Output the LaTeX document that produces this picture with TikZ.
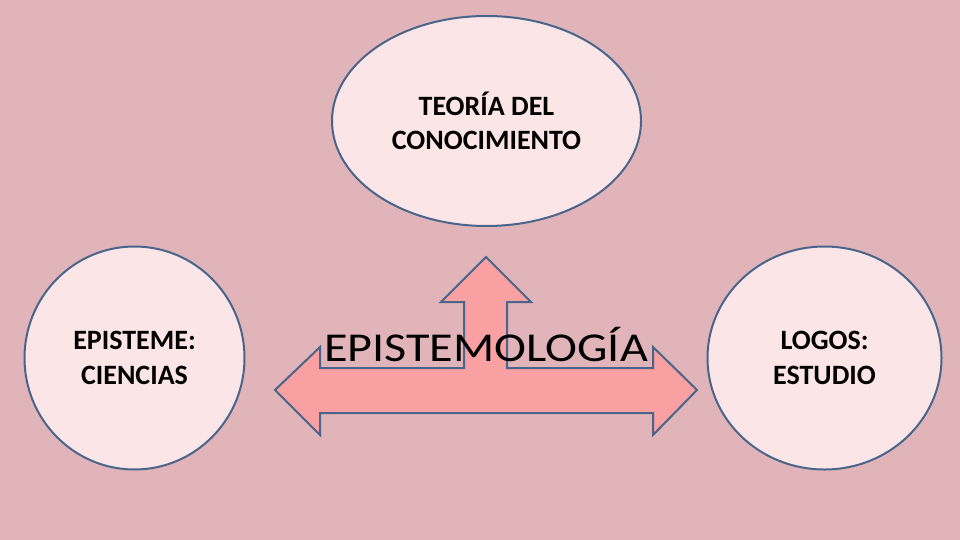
\documentclass[tikz,border=0pt]{standalone}
\usepackage{fontspec}
\setmainfont{Carlito}
\usetikzlibrary{shapes.geometric}
\definecolor{bgpink}{RGB}{224,180,184}
\definecolor{ellfill}{RGB}{252,229,231}
\definecolor{arrfill}{RGB}{249,160,162}
\definecolor{edgeblue}{RGB}{74,101,140}
\tikzset{
  circ/.style={ellipse, draw=edgeblue, fill=ellfill, line width=2pt, inner sep=0pt,
    align=center, font=\bfseries\fontsize{28}{34.5}\selectfont},
  bigarrow/.style={draw=edgeblue, fill=arrfill, line width=2pt, line join=miter},
  title/.style={font=\fontsize{41}{48}\selectfont, inner sep=0pt, xscale=1.175, transform shape}
}
\begin{document}
\begin{tikzpicture}[x=1pt,y=-1pt]
\useasboundingbox (0,0) rectangle (960,540);
\fill[bgpink] (0,0) rectangle (960,540);
\node[circ, minimum width=309pt, minimum height=210pt] (top) at (486.5,121) {TEORÍA DEL\\CONOCIMIENTO};
\node[circ, minimum width=220pt, minimum height=223pt] (left) at (134.5,358) {EPISTEME:\\CIENCIAS};
\node[circ, minimum width=234pt, minimum height=223pt] (right) at (824.5,358) {LOGOS:\\ESTUDIO};
\draw[bigarrow] (275,390) -- (320,347) -- (320,368) -- (464,368) -- (464,302) -- (441,302)
  -- (486,257) -- (531,302) -- (507,302) -- (507,368) -- (653,368) -- (653,347)
  -- (697,390) -- (653,435) -- (653,413) -- (320,413) -- (320,435) -- cycle;
\node[title, anchor=base] (epi) at (486,361) {EPISTEMOLOGÍA};
\end{tikzpicture}
\end{document}
